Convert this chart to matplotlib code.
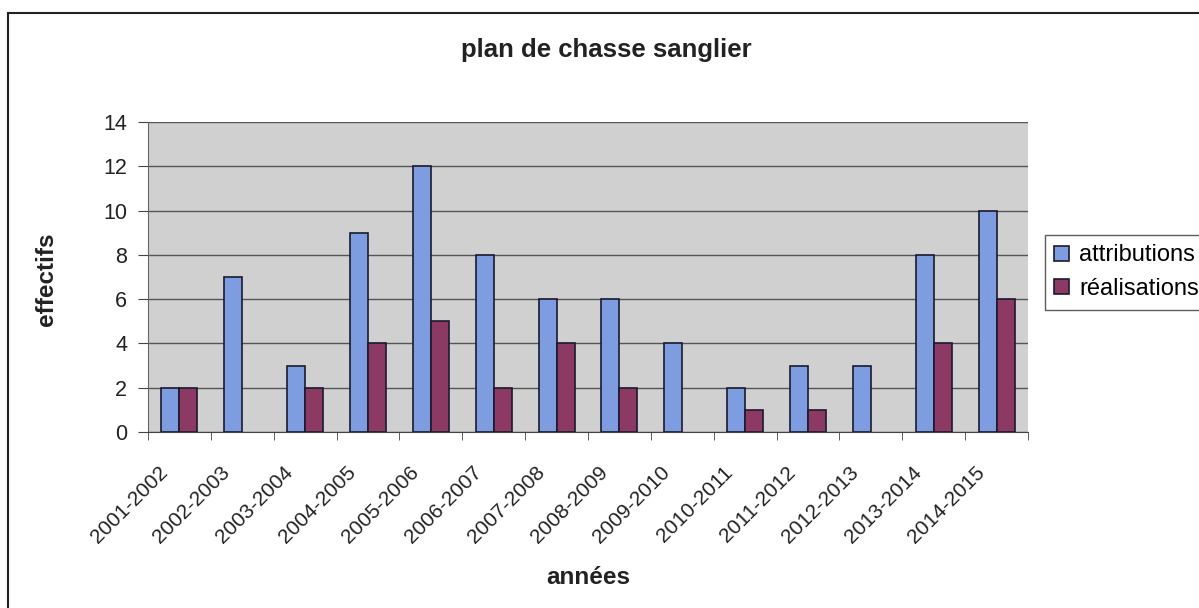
import matplotlib.pyplot as plt
import matplotlib.transforms as mtransforms
import numpy as np
from matplotlib.patches import Rectangle

plt.rcParams['font.family'] = ['Liberation Sans', 'DejaVu Sans']

saisons = ['2001-2002', '2002-2003', '2003-2004', '2004-2005', '2005-2006',
           '2006-2007', '2007-2008', '2008-2009', '2009-2010', '2010-2011',
           '2011-2012', '2012-2013', '2013-2014', '2014-2015']
attributions = [2, 7, 3, 9, 12, 8, 6, 6, 4, 2, 3, 3, 8, 10]
realisations = [2, 0, 2, 4, 5, 2, 4, 2, 0, 1, 1, 0, 4, 6]

W, H = 1199, 608
fig = plt.figure(figsize=(W / 100, H / 100), dpi=100)
fig.patch.set_facecolor('white')

# plot area in pixels: x 148..1028, y 122..432
ax = fig.add_axes([148 / W, 1 - 432 / H, 880 / W, 310 / H])
ax.set_facecolor('#d0d0d0')

x = np.arange(len(saisons))
bw = 0.286
b1 = ax.bar(x - bw / 2, attributions, bw, color='#7d9de0', edgecolor='#1a1a2e',
            linewidth=1.2, label='attributions', zorder=3)
b2 = ax.bar(x + bw / 2, realisations, bw, color='#8c3a64', edgecolor='#1a1a2e',
            linewidth=1.2, label='réalisations', zorder=3)
# empty bars leave no outline in the original
for bars in (b1, b2):
    for p in bars:
        if p.get_height() == 0:
            p.set_linewidth(0)

ax.set_xlim(-0.5, len(saisons) - 0.5)
ax.set_ylim(0, 14)
ax.set_yticks(range(0, 15, 2))
ax.yaxis.grid(True, color='#555555', linewidth=1.0, zorder=1)

ax.set_xticks(x)
ax.set_xticklabels(saisons, rotation=45, ha='right', va='center',
                   rotation_mode='anchor', fontsize=15, color='#222222')
ax.tick_params(axis='x', length=0, pad=27)
shift = mtransforms.ScaledTranslation(-15 / 100, 0, fig.dpi_scale_trans)
for lbl in ax.get_xticklabels():
    lbl.set_transform(lbl.get_transform() + shift)
ax.set_xticks(np.arange(-0.5, len(saisons)), minor=True)
ax.tick_params(axis='x', which='minor', length=6, direction='out', color='#444444')
ax.tick_params(axis='y', labelsize=15.5, length=7, color='#444444', pad=8,
               labelcolor='#222222')

for side in ['top', 'right']:
    ax.spines[side].set_visible(False)
ax.spines['left'].set_color('#666666')
ax.spines['bottom'].set_color('#444444')

fig.text(606 / W, 1 - 50 / H, 'plan de chasse sanglier', color='#222222',
         ha='center', va='center', fontsize=18.5, fontweight='bold')
fig.text(46 / W, 1 - 279 / H, 'effectifs', rotation=90, ha='center',
         va='center', fontsize=17.5, fontweight='bold', color='#222222')
fig.text(588 / W, 1 - 577 / H, 'années', ha='center', va='center',
         fontsize=17.5, fontweight='bold', color='#222222')

leg = fig.legend(loc='upper left', bbox_to_anchor=(1045 / W, 1 - 235 / H),
                 fontsize=17, frameon=True, fancybox=False, handlelength=0.6,
                 handleheight=0.6, handletextpad=0.45, borderpad=0.4,
                 labelspacing=0.5, borderaxespad=0)
leg.get_frame().set_edgecolor('#333333')
leg.get_frame().set_linewidth(1.0)

# outer chart frame
fig.patches.append(Rectangle((8 / W, -0.01), 1.02, 1 - 13 / H + 0.01,
                             transform=fig.transFigure, fill=False,
                             edgecolor='#222222', linewidth=1.5))

fig.savefig('out.png', dpi=100)
